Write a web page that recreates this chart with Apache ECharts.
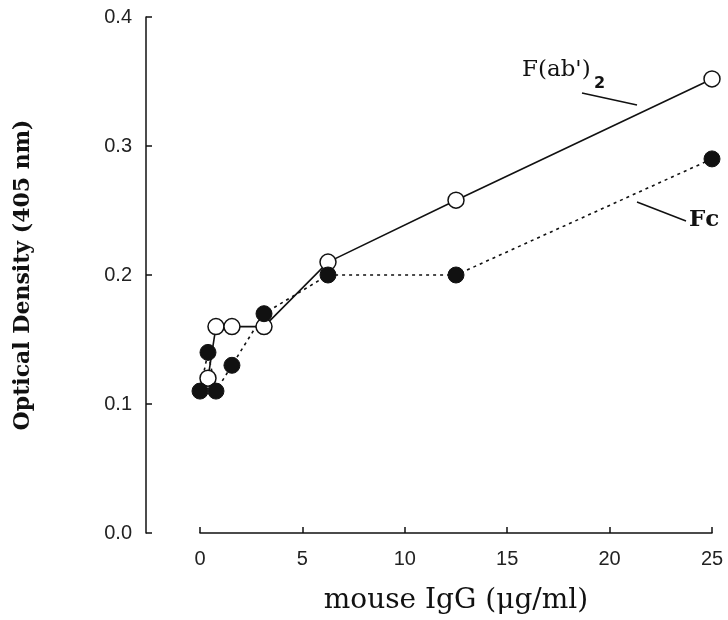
<!DOCTYPE html>
<html>
<head>
<meta charset="utf-8">
<script src="https://cdn.jsdelivr.net/npm/echarts@6/dist/echarts.min.js"></script>
<style>
    html, body { margin: 0; padding: 0; background: #fff; }
    #chart { width: 728px; height: 620px; }
</style>
</head>
<body>
<div id="chart"></div>
<script>
    // concentrations (ug/ml) and optical densities
    var fabDose = [0.39, 0.78, 1.56, 3.125, 6.25, 12.5, 25];
    var fabOD = [0.12, 0.16, 0.16, 0.16, 0.21, 0.258, 0.352];
    var fcDose = [0, 0.39, 0.78, 1.56, 3.125, 6.25, 12.5, 25];
    var fcOD = [0.11, 0.14, 0.11, 0.13, 0.17, 0.20, 0.20, 0.29];
    var xTicks = [0, 5, 10, 15, 20, 25];
    var yTicks = [0.0, 0.1, 0.2, 0.3, 0.4];

    function pairs(xs, ys) {
        return xs.map(function (x, i) { return [x, ys[i]]; });
    }

    var chart = echarts.init(document.getElementById('chart'));
    var tickFont = { color: '#222', fontSize: 20, fontFamily: 'Liberation Sans' };

    chart.setOption({
        animation: false,
        grid: { left: 200, right: 16, top: 17, bottom: 86 },
        xAxis: {
            type: 'value',
            min: xTicks[0],
            max: xTicks[xTicks.length - 1],
            interval: 5,
            name: 'mouse IgG (\u03bcg/ml)',
            nameLocation: 'middle',
            nameGap: 54,
            nameTextStyle: { color: '#111', fontSize: 28, fontFamily: 'DejaVu Serif' },
            splitLine: { show: false },
            axisLine: { onZero: false, lineStyle: { color: '#111', width: 1.5 } },
            axisTick: { inside: true, length: 6, lineStyle: { color: '#111', width: 1.5 } },
            axisLabel: Object.assign({ margin: 16 }, tickFont)
        },
        yAxis: {
            type: 'value',
            min: yTicks[0],
            max: yTicks[yTicks.length - 1],
            interval: 0.1,
            offset: 54,
            name: 'Optical Density (405 nm)',
            nameLocation: 'middle',
            nameGap: 112,
            nameTextStyle: { color: '#111', fontSize: 22, fontWeight: 'bold', fontFamily: 'DejaVu Serif' },
            splitLine: { show: false },
            axisLine: { show: true, onZero: false, lineStyle: { color: '#111', width: 1.5 } },
            axisTick: { show: true, inside: true, length: 6, lineStyle: { color: '#111', width: 1.5 } },
            axisLabel: Object.assign({
                margin: 14,
                formatter: function (v) { return v.toFixed(1); }
            }, tickFont)
        },
        series: [
            {
                name: "F(ab')2",
                type: 'line',
                data: pairs(fabDose, fabOD),
                clip: false,
                symbol: 'circle',
                symbolSize: 16,
                itemStyle: { color: '#fff', borderColor: '#111', borderWidth: 1.5 },
                lineStyle: { color: '#111', width: 1.6 }
            },
            {
                name: 'Fc',
                type: 'line',
                data: pairs(fcDose, fcOD),
                clip: false,
                symbol: 'circle',
                symbolSize: 16,
                itemStyle: { color: '#111', borderColor: '#111', borderWidth: 1 },
                lineStyle: { color: '#111', width: 1.6, type: [3, 4] }
            }
        ],
        graphic: [
            { type: 'text', left: 522, top: 59, style: { text: "F(ab')", fontSize: 23, fontFamily: 'DejaVu Serif', fill: '#111' } },
            { type: 'text', left: 594, top: 76, style: { text: '2', fontSize: 16, fontWeight: 'bold', fontFamily: 'DejaVu Sans', fill: '#111' } },
            { type: 'line', shape: { x1: 582, y1: 93, x2: 637, y2: 105 }, style: { stroke: '#111', lineWidth: 1.5 } },
            { type: 'text', left: 689, top: 209, style: { text: 'Fc', fontSize: 23, fontWeight: 'bold', fontFamily: 'DejaVu Serif', fill: '#111' } },
            { type: 'line', shape: { x1: 637, y1: 202, x2: 686, y2: 221 }, style: { stroke: '#111', lineWidth: 1.5 } }
        ]
    });
</script>
</body>
</html>
